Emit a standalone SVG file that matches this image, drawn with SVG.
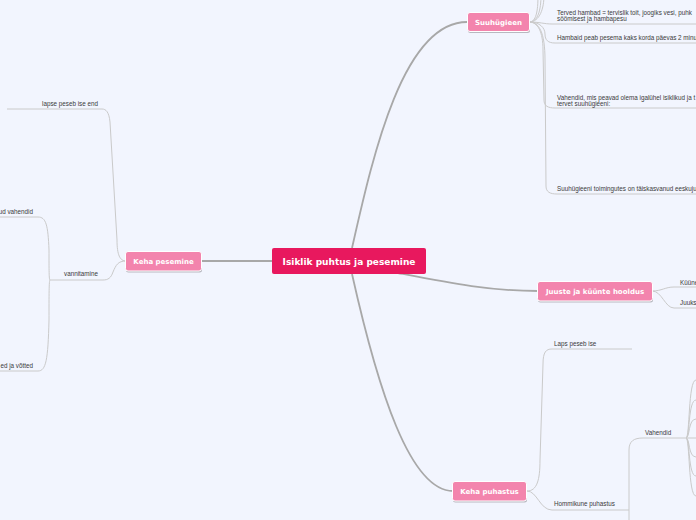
<svg xmlns="http://www.w3.org/2000/svg" width="696" height="520" viewBox="0 0 696 520">
<defs>
<style>
.bg{fill:#f2f5fe}
.main{stroke:#a8a8a8;stroke-width:1.8;fill:none}
.thin{stroke:#cacaca;stroke-width:1;fill:none}
.root{fill:#e8185e}
.node{fill:#f384ad;stroke:#ffffff;stroke-width:1}
.shadow{fill:#b8b8c0}
.rt{font-family:"DejaVu Sans",sans-serif;font-weight:bold;fill:#fff;font-size:9px}
.nt{font-family:"DejaVu Sans",sans-serif;font-weight:bold;fill:#fff;font-size:7px}
.lt{font-family:"Liberation Sans",Arial,sans-serif;fill:#3a3a3a;font-size:6.3px}
</style>
</defs>
<rect class="bg" x="0" y="0" width="696" height="520"/>
<g id="connectors">
<path class="main" d="M352,248 C372,160 402,22 467,22"/>
<path class="main" d="M398,273 C450,283 490,291 538,291"/>
<path class="main" d="M352,274 C378,390 410,491 453,491"/>
<path class="main" d="M272,261 L201,261"/>
<path class="thin" d="M529,22 C536,22 538,12 538,-5"/>
<path class="thin" d="M529,22 C538,22 541,10 541,-5"/>
<path class="thin" d="M529,22 C540,22 544,8 544,-5"/>
<path class="thin" d="M529,22 C540,22 544,24 552,24 L696,24"/>
<path class="thin" d="M529,22 C540,22 545,28 545,34 C545,40 548,43 555,43 L696,43"/>
<path class="thin" d="M529,22 C538,22 543,32 543,50 L544,100 C544,106 548,108 555,108 L696,108"/>
<path class="thin" d="M529,22 C539,22 545,32 545,60 L546,186 C546,192 550,194 557,194 L696,194"/>
<path class="thin" d="M652,291 C662,291 665,287 674,287 L696,287"/>
<path class="thin" d="M652,291 C662,291 665,308 674,308 L696,308"/>
<path class="thin" d="M527,491 C537,491 540,480 540,460 L543,364 C543,352 546,349 552,349 L632,349"/>
<path class="thin" d="M527,491 C537,491 540,510 552,510 L629,510"/>
<path class="thin" d="M629,525 L629,450 C629,441 634,438 643,438 L686,438"/>
<path class="thin" d="M686,438 C690,438 688,380 696,380"/>
<path class="thin" d="M686,438 C690,438 688,400 696,400"/>
<path class="thin" d="M686,438 C690,438 688,419 696,419"/>
<path class="thin" d="M686,438 L696,438"/>
<path class="thin" d="M686,438 C690,438 688,457 696,457"/>
<path class="thin" d="M686,438 C690,438 688,476 696,476"/>
<path class="thin" d="M686,438 C690,438 688,496 696,496"/>
<path class="thin" d="M126,261 C120,261 117,255 117,240 L110,122 C109,112 106,109 102,109 L7,109"/>
<path class="thin" d="M126,261 C118,261 116,265 113,272 C111,278 108,280 103,280 L50,280"/>
<path class="thin" d="M50,280 C49,280 49,270 49,250 C48,225 46,217 38,217 L0,217"/>
<path class="thin" d="M50,280 C49,280 49,295 49,320 C48,360 46,371 38,371 L0,371"/>
</g>
<g id="root">
<rect class="root" x="272" y="248" width="154" height="26" rx="2"/>
<text class="rt" x="349" y="264.5" text-anchor="middle">Isiklik puhtus ja pesemine</text>
</g>
<g id="suuhygieen">
<rect class="shadow" x="468" y="13.5" width="62" height="19.5" rx="2.5"/>
<rect class="node" x="467.5" y="12.5" width="62" height="19" rx="2.5"/>
<text class="nt" x="498.5" y="24.5" text-anchor="middle">Suuhügieen</text>
<text class="lt" x="557" y="14.5">Terved hambad = tervislik toit, joogiks vesi, puhk</text>
<text class="lt" x="557" y="20.5">söömisest ja hambapesu</text>
<text class="lt" x="557" y="40">Hambaid peab pesema kaks korda päevas 2 minut</text>
<text class="lt" x="557" y="99.5">Vahendid, mis peavad olema igalühel isiklikud ja t</text>
<text class="lt" x="557" y="105.5">tervet suuhügieeni:</text>
<text class="lt" x="557" y="190.5">Suuhügieeni toimingutes on täiskasvanud eeskuju</text>
</g>
<g id="juuste">
<rect class="shadow" x="538" y="282.5" width="115" height="20" rx="2.5"/>
<rect class="node" x="537.5" y="281.5" width="115" height="19.5" rx="2.5"/>
<text class="nt" x="595" y="294" text-anchor="middle">Juuste ja küünte hooldus</text>
<text class="lt" x="680" y="284.5">Küüne</text>
<text class="lt" x="680" y="305">Juuks</text>
</g>
<g id="keha-puhastus">
<rect class="shadow" x="453" y="482.5" width="74" height="20" rx="2.5"/>
<rect class="node" x="452.5" y="481.5" width="74" height="19.5" rx="2.5"/>
<text class="nt" x="489.5" y="494" text-anchor="middle">Keha puhastus</text>
<text class="lt" x="554" y="346">Laps peseb ise</text>
<text class="lt" x="554" y="506">Hommikune puhastus</text>
<text class="lt" x="645" y="434.5">Vahendid</text>
</g>
<g id="keha-pesemine">
<rect class="shadow" x="126" y="252.5" width="76" height="20" rx="2.5"/>
<rect class="node" x="125.5" y="251.5" width="76" height="19.5" rx="2.5"/>
<text class="nt" x="163.5" y="264" text-anchor="middle">Keha pesemine</text>
<text class="lt" x="98" y="105.5" text-anchor="end">lapse peseb ise end</text>
<text class="lt" x="98" y="276" text-anchor="end">vannitamine</text>
<text class="lt" x="33" y="213.5" text-anchor="end">ud vahendid</text>
<text class="lt" x="33" y="367.5" text-anchor="end">ed ja võtted</text>
</g>
</svg>
